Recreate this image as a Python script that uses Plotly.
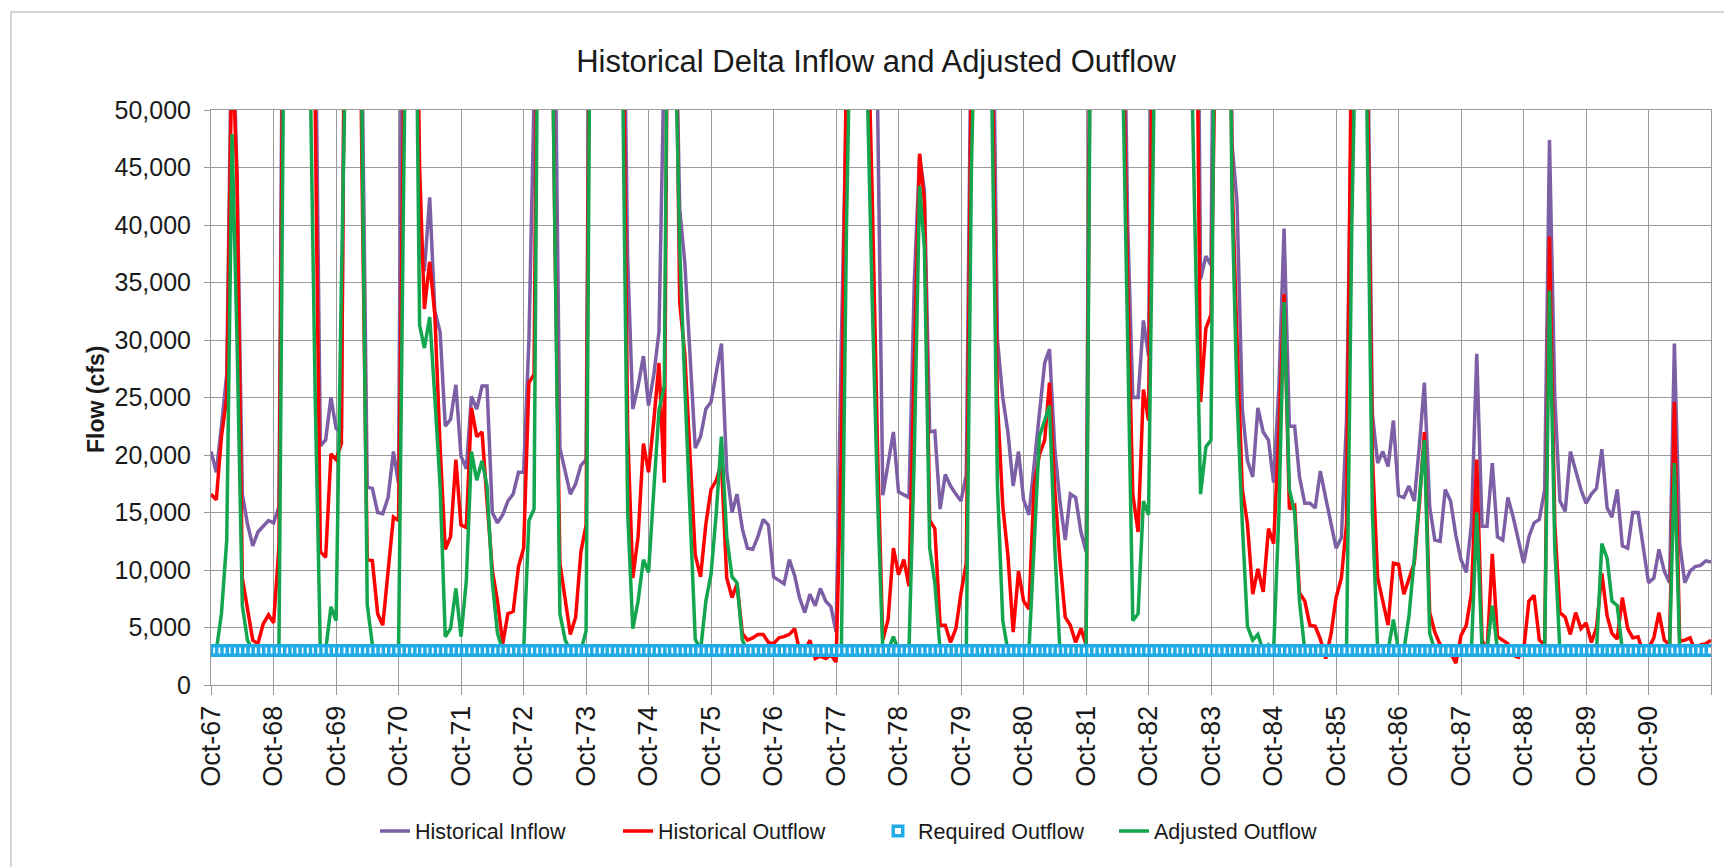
import pandas as pd
import plotly.graph_objects as go

# ---------------- data (monthly, Oct-1967 .. Oct-1991) ----------------
months = pd.date_range("1967-10-01", periods=289, freq="MS")

historical_inflow = [
    20300, 18500, 22500, 27000, 60000, 44500, 16600, 14000, 12100, 13300, 13800, 14300,   # WY67
    14100, 15500, 80000, 90000, 90000, 85000, 80000, 75000, 60000, 20800, 21300, 25000,   # WY68
    22300, 22000, 85000, 95000, 90000, 55000, 17200, 17100, 15000, 14900, 16300, 20300,   # WY69
    17500, 90000, 95000, 85000, 37700, 36000, 42400, 32500, 30700, 22500, 23100, 26100,   # WY70
    19900, 18800, 25100, 24000, 26000, 26000, 15000, 14100, 14800, 16000, 16600, 18500,   # WY71
    18500, 30000, 70000, 95000, 95000, 85000, 60000, 20600, 18600, 16600, 17500, 19100,   # WY72
    19600, 90000, 100000, 100000, 95000, 90000, 85000, 70000, 37000, 24000, 26000, 28600, # WY73
    24300, 27000, 30700, 55000, 95000, 65000, 41400, 36700, 28000, 20600, 21600, 24000,   # WY74
    24600, 27000, 29700, 18600, 15000, 16600, 13600, 11900, 11800, 12900, 14400, 13900,   # WY75
    9400, 9100, 8800, 10900, 9500, 7600, 6300, 7900, 6900, 8400, 7300, 6800,             # WY76
    4600, 30000, 65000, 90000, 95000, 90000, 85000, 70000, 50000, 16500, 19100, 22000,    # WY77
    16800, 16500, 16300, 35000, 46000, 43000, 22000, 22100, 15300, 18300, 17300, 16600,   # WY78
    16000, 18300, 60000, 90000, 95000, 90000, 65000, 30000, 25000, 22000, 17300, 20300,   # WY79
    16100, 14800, 19000, 23400, 28000, 29200, 20600, 16000, 12600, 16600, 16300, 13300,   # WY80
    11600, 80000, 95000, 100000, 95000, 90000, 85000, 70000, 40000, 25000, 25000, 31700,  # WY81
    28600, 80000, 95000, 100000, 100000, 95000, 90000, 95000, 95000, 90000, 35300, 37300, # WY82
    36500, 90000, 95000, 95000, 47000, 42000, 24000, 19500, 18100, 24100, 22000, 21300,   # WY83
    17600, 26000, 39700, 22500, 22500, 18100, 15800, 15800, 15400, 18600, 16300, 13900,   # WY84
    11900, 12800, 23000, 52000, 90000, 95000, 60000, 23600, 19300, 20300, 19000, 23000,   # WY85
    16500, 16300, 17300, 16000, 21000, 26300, 15500, 12600, 12500, 17000, 16000, 13000,   # WY86
    10900, 9800, 14000, 28800, 13800, 13800, 19300, 12900, 12600, 16300, 14600, 12500,    # WY87
    10600, 12900, 14100, 14400, 17000, 47400, 25000, 16000, 15100, 20300, 18600, 17000,   # WY88
    15800, 16600, 17100, 20500, 15400, 14600, 17000, 12100, 11900, 15000, 15000, 12000,   # WY89
    8900, 9300, 11800, 9900, 8900, 29700, 12300, 8900, 9900, 10300, 10400, 10800,         # WY90
    10700,
]

historical_outflow = [
    16600, 16100, 21600, 25000, 56000, 44000, 9300, 6500, 3900, 3600, 5300, 6100,
    5400, 12000, 70000, 90000, 85000, 80000, 75000, 65000, 50000, 11600, 11100, 20100,
    19600, 21000, 85000, 90000, 85000, 45000, 10900, 10800, 6200, 5200, 9600, 14600,
    14300, 55000, 90000, 80000, 45000, 32700, 36800, 32200, 20700, 11800, 12900, 19600,
    13900, 13700, 24100, 21600, 22000, 16000, 10000, 7300, 3600, 6200, 6400, 10300,
    11900, 26300, 27000, 85000, 90000, 80000, 40000, 10600, 7300, 4400, 5900, 11600,
    13900, 85000, 95000, 95000, 90000, 85000, 80000, 65000, 22000, 9300, 12900, 21000,
    18500, 23000, 28000, 17600, 90000, 70000, 33300, 28700, 20000, 11300, 9400, 14000,
    17000, 17800, 19300, 9300, 7600, 8800, 4500, 3900, 4100, 4400, 4400, 3700,
    3600, 4100, 4200, 4400, 4900, 3000, 2900, 3900, 2300, 2500, 2300, 2600,
    2000, 20000, 55000, 90000, 95000, 90000, 60000, 42000, 20000, 3900, 5700, 11900,
    9600, 10900, 8600, 28000, 46200, 42000, 14300, 13600, 5200, 5200, 3700, 4900,
    8000, 10600, 55000, 85000, 90000, 85000, 55000, 24600, 15600, 11300, 4600, 9900,
    7300, 6600, 17300, 20000, 21300, 26300, 17000, 10900, 5900, 5200, 3700, 4900,
    3500, 75000, 90000, 95000, 90000, 85000, 80000, 60000, 35000, 16600, 13300, 25700,
    23000, 70000, 90000, 95000, 95000, 90000, 85000, 85000, 85000, 75000, 24600, 31000,
    32200, 85000, 90000, 90000, 44000, 30000, 17000, 14000, 7900, 10100, 8100, 13600,
    12300, 22000, 34000, 15300, 15600, 8000, 7300, 5200, 5100, 4000, 2300, 4400,
    7600, 9300, 14000, 60000, 85000, 90000, 55000, 20000, 9300, 7300, 5200, 10600,
    10500, 7900, 9300, 10600, 16000, 22000, 6300, 4600, 3500, 3200, 2800, 1900,
    4300, 5200, 8000, 19600, 3900, 2900, 11400, 4200, 3900, 3600, 2600, 2400,
    3000, 7300, 7800, 3900, 3500, 39000, 14000, 6300, 5900, 4400, 6300, 4900,
    5400, 3700, 5000, 9700, 6000, 4500, 4000, 7600, 4900, 4100, 4200, 2700,
    3200, 4100, 6300, 3900, 3500, 24600, 3800, 3900, 4100, 2900, 3500, 3600,
    3900,
]

adjusted_outflow = [
    3000, 3000, 6200, 12600, 47900, 30000, 6900, 3900, 3000, 3000, 3000, 3000,
    3000, 3000, 60000, 80000, 80000, 75000, 70000, 55000, 25000, 3000, 3000, 6800,
    5600, 35000, 80000, 85000, 80000, 50000, 7000, 3500, 3000, 3000, 3000, 3000,
    3000, 45000, 80000, 75000, 31300, 29300, 32000, 25000, 17300, 4200, 4900, 8400,
    4200, 9000, 20300, 17800, 19500, 17300, 9000, 4500, 3000, 3000, 3000, 3000,
    3000, 14300, 15300, 80000, 85000, 75000, 40000, 6200, 3900, 3000, 3000, 3000,
    4700, 80000, 90000, 90000, 85000, 80000, 75000, 55000, 15000, 4900, 7300, 10900,
    9800, 17000, 23900, 26000, 85000, 60000, 38000, 26000, 14000, 4000, 3000, 7300,
    9600, 15000, 21600, 12900, 9400, 8900, 3900, 3000, 3000, 3000, 3000, 3000,
    3000, 3000, 3000, 3000, 3000, 3000, 3000, 3000, 3000, 3000, 3000, 3000,
    3000, 3000, 40000, 85000, 90000, 85000, 52000, 33000, 16000, 3000, 3000, 4200,
    3000, 3000, 3000, 20000, 43400, 38000, 11900, 8900, 3000, 3000, 3000, 3000,
    3000, 3000, 45000, 80000, 85000, 80000, 48000, 17300, 5600, 3000, 3000, 3000,
    3000, 3000, 12000, 21600, 23000, 24300, 12000, 3000, 3000, 3000, 3000, 3000,
    3000, 70000, 85000, 90000, 85000, 80000, 75000, 55000, 30000, 5600, 6200, 16000,
    14800, 52000, 85000, 90000, 90000, 85000, 80000, 75000, 60000, 38000, 16600, 20700,
    21300, 80000, 85000, 85000, 42000, 25000, 14000, 5100, 3900, 4400, 3000, 3500,
    3000, 15000, 33300, 17000, 15000, 7300, 3000, 3000, 3000, 3000, 3000, 3000,
    3000, 3000, 3000, 40000, 80000, 85000, 48000, 15000, 3000, 3000, 3000, 5700,
    3000, 3000, 6000, 11000, 16000, 21300, 4500, 3000, 3000, 3000, 3000, 3000,
    3000, 3000, 3000, 15000, 3000, 3000, 6900, 3000, 3000, 3000, 3000, 3000,
    3000, 3000, 3000, 3000, 3000, 34300, 12000, 3000, 3000, 3000, 3000, 3000,
    3000, 3000, 3000, 12300, 11000, 7300, 6900, 3000, 3000, 3000, 3000, 3000,
    3000, 3000, 3000, 3000, 3000, 19300, 3000, 3000, 3000, 3000, 3000, 3000,
    3000,
]

required_outflow_cfs = 3000
required_outflow = [required_outflow_cfs] * len(months)

tick_dates = pd.date_range("1967-10-01", "1991-10-01", freq="12MS")
tick_text = [d.strftime("Oct-%y") for d in tick_dates[:-1]] + [""]

assert len(historical_inflow) == len(historical_outflow) == len(adjusted_outflow) == len(months)

# ---------------- layout geometry ----------------
W, H = 1732, 867
L, R, T, B = 203, 29, 102, 190
PW, PH = W - L - R, H - T - B


def px_x(x):
    return (x - L) / PW


def px_y(y):
    return (H - B - y) / PH


PURPLE = "#7d5fa6"
RED = "#ff0000"
GREEN = "#14a64f"
BLUE = "#21abe6"
GRID = "#9a9a9a"
FONT = "Liberation Sans, Arial, sans-serif"

fig = go.Figure()
fig.add_trace(go.Scatter(x=months, y=historical_inflow, mode="lines", name="Historical Inflow",
                         line=dict(color=PURPLE, width=3.5), legendrank=1, legendwidth=198))
fig.add_trace(go.Scatter(x=months, y=historical_outflow, mode="lines", name="Historical Outflow",
                         line=dict(color=RED, width=3.5), legendrank=2, legendwidth=215))
fig.add_trace(go.Scatter(x=months, y=adjusted_outflow, mode="lines", name="Adjusted Outflow",
                         line=dict(color=GREEN, width=3.5), legendrank=4, legendwidth=190))
fig.add_trace(go.Scatter(x=months, y=required_outflow, mode="markers", name="Required Outflow",
                         marker=dict(symbol="square", size=9.5, color="white",
                                     line=dict(color=BLUE, width=3.5)),
                         legendrank=3, legendwidth=191))

fig.update_layout(
    template="none",
    width=W, height=H,
    margin=dict(l=L, r=R, t=T, b=B, autoexpand=False),
    paper_bgcolor="white", plot_bgcolor="white",
    font=dict(family=FONT, color="#1a1a1a"),
    title=dict(text="Historical Delta Inflow and Adjusted Outflow",
               x=868 / W, xanchor="center", xref="container",
               y=1 - 53 / H, yanchor="middle", yref="container",
               font=dict(family=FONT, size=31, color="#1a1a1a")),
    showlegend=True,
    legend=dict(orientation="h", x=px_x(367), xanchor="left", y=px_y(823), yanchor="middle",
                font=dict(family=FONT, size=21.5, color="#1a1a1a"),
                bgcolor="rgba(0,0,0,0)", traceorder="normal",
                entrywidthmode="pixels"),
    xaxis=dict(type="date", range=[months[0], pd.Timestamp("1991-10-01")],
               tickvals=list(tick_dates), ticktext=tick_text, tickangle=-90,
               tickfont=dict(family=FONT, size=27, color="#1a1a1a"),
               ticks="outside", ticklen=9, tickcolor=GRID, tickwidth=1,
               showgrid=True, gridcolor=GRID, gridwidth=1,
               showline=True, linecolor=GRID, linewidth=1, mirror=True,
               zeroline=False, automargin=False, fixedrange=True),
    yaxis=dict(range=[0, 50000], tick0=0, dtick=5000, tickformat=",",
               tickfont=dict(family=FONT, size=25, color="#1a1a1a"),
               ticks="outside", ticklen=6, tickcolor=GRID, tickwidth=1,
               ticklabelstandoff=8,
               showgrid=True, gridcolor=GRID, gridwidth=1,
               showline=True, linecolor=GRID, linewidth=1, mirror=True,
               zeroline=False, automargin=False, fixedrange=True),
    annotations=[dict(text="<b>Flow (cfs)</b>", textangle=-90, showarrow=False,
                      xref="paper", yref="paper", x=px_x(88), y=px_y(392),
                      xanchor="center", yanchor="middle",
                      font=dict(family=FONT, size=23, color="#1a1a1a"))],
    shapes=[dict(type="rect", xref="paper", yref="paper",
                 x0=px_x(3), x1=px_x(1728), y0=px_y(862), y1=px_y(4),
                 line=dict(color="#c8c8c8", width=1.5), layer="below")],
)

fig.write_html("out.html")
